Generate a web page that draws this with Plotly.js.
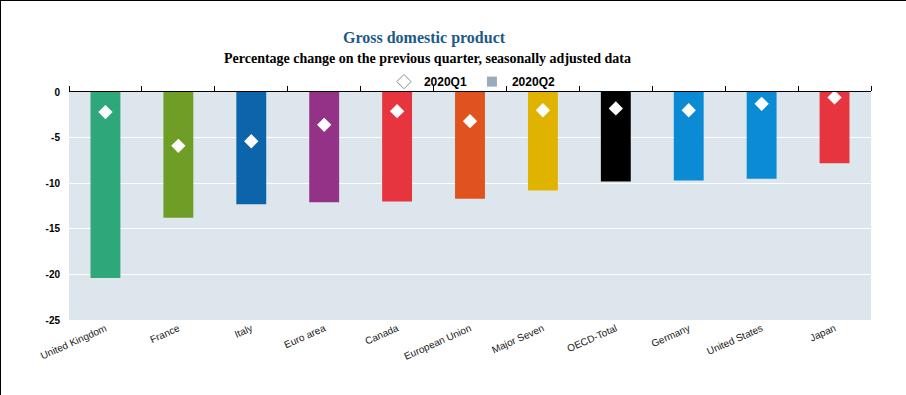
<!DOCTYPE html>
<html>
<head>
<meta charset="utf-8">
<script src="https://cdn.plot.ly/plotly-3.0.1.min.js"></script>
<style>
  html, body { margin: 0; padding: 0; background: #fff; }
  #chart { width: 905px; height: 394px; border-top: 1px solid #000; border-left: 1px solid #000; }
</style>
</head>
<body>
<div id="chart"></div>
<script>
const categories = ["United Kingdom", "France", "Italy", "Euro area", "Canada", "European Union",
  "Major Seven", "OECD-Total", "Germany", "United States", "Japan"];
const q1Values = [-2.2, -5.9, -5.4, -3.6, -2.1, -3.2, -2.0, -1.8, -2.0, -1.3, -0.6];
const q2Values = [-20.4, -13.8, -12.3, -12.1, -12.0, -11.7, -10.8, -9.8, -9.7, -9.5, -7.8];
const barColors = ["#2ea87a", "#6f9e27", "#0c64ab", "#943287", "#e6353f", "#e0531f",
  "#e0b300", "#000000", "#0b8bd4", "#0b8bd4", "#e6353f"];
const yTicks = [0, -5, -10, -15, -20, -25];

const traces = [
  {
    type: "bar", x: categories, y: q2Values, name: "2020Q2",
    marker: { color: barColors }, showlegend: false, hoverinfo: "x+y"
  },
  {
    type: "scatter", mode: "markers", x: categories, y: q1Values, name: "2020Q1",
    marker: { symbol: "diamond", size: 11, color: "#ffffff", line: { width: 0 } },
    showlegend: false
  },
  {
    type: "scatter", mode: "markers", x: [categories[0]], y: [null], name: "2020Q1",
    marker: { symbol: "diamond-open", size: 11, color: "#8a8a8a", line: { width: 1 } },
    showlegend: true
  },
  {
    type: "scatter", mode: "markers", x: [categories[0]], y: [null], name: "2020Q2",
    marker: { symbol: "square", size: 10, color: "#9aabbb" },
    showlegend: true
  }
];

const layout = {
  width: 905, height: 394,
  margin: { l: 68, r: 35, t: 91, b: 75 },
  paper_bgcolor: "#ffffff",
  plot_bgcolor: "#dde6ed",
  bargap: 0.59,
  font: { family: "Liberation Sans, Arial, sans-serif", size: 10, color: "#222" },
  xaxis: {
    type: "category", categoryarray: categories, range: [-0.5, 10.5],
    showline: false, ticks: "", showgrid: false, zeroline: false,
    tickangle: -24, tickfont: { family: "Liberation Sans, Arial, sans-serif", size: 10, color: "#222" }
  },
  xaxis2: {
    overlaying: "x", side: "top", anchor: "y", type: "linear", range: [-0.5, 10.5],
    tickmode: "linear", tick0: -0.5, dtick: 1, ticks: "outside", ticklen: 5, tickcolor: "#000",
    tickwidth: 1, showline: true, linecolor: "#000", linewidth: 1.5,
    showticklabels: false, showgrid: false, zeroline: false
  },
  yaxis: {
    range: [-25, 0], tickvals: yTicks, ticktext: yTicks.map(String),
    showgrid: true, gridcolor: "#ffffff", gridwidth: 1, zeroline: false, showline: false,
    ticks: "", ticklabelstandoff: 8,
    tickfont: { family: "Liberation Sans, Arial, sans-serif", size: 10, color: "#000", weight: "bold" }
  },
  showlegend: true,
  legend: {
    orientation: "h", x: 0.503, xanchor: "center", y: 0.982, yanchor: "bottom",
    yref: "paper", font: { family: "Liberation Sans, Arial, sans-serif", size: 12, color: "#000", weight: "bold" },
    bgcolor: "rgba(0,0,0,0)", itemclick: false, traceorder: "normal", itemwidth: 30
  },
  annotations: [
    {
      xref: "paper", yref: "paper", x: 0.443, y: 1.0, yshift: 54, xanchor: "center", yanchor: "middle",
      text: "<b>Gross domestic product</b>", showarrow: false,
      font: { family: "Liberation Serif, Times New Roman, serif", size: 16, color: "#1c5a89" }
    },
    {
      xref: "paper", yref: "paper", x: 0.447, y: 1.0, yshift: 34, xanchor: "center", yanchor: "middle",
      text: "<b>Percentage change on the previous quarter, seasonally adjusted data</b>", showarrow: false,
      font: { family: "Liberation Serif, Times New Roman, serif", size: 14, color: "#000" }
    }
  ]
};

traces.push({ type: "scatter", x: [0], y: [null], xaxis: "x2", yaxis: "y", showlegend: false, hoverinfo: "skip" });

Plotly.newPlot("chart", traces, layout, { displayModeBar: false, staticPlot: true });
</script>
</body>
</html>
